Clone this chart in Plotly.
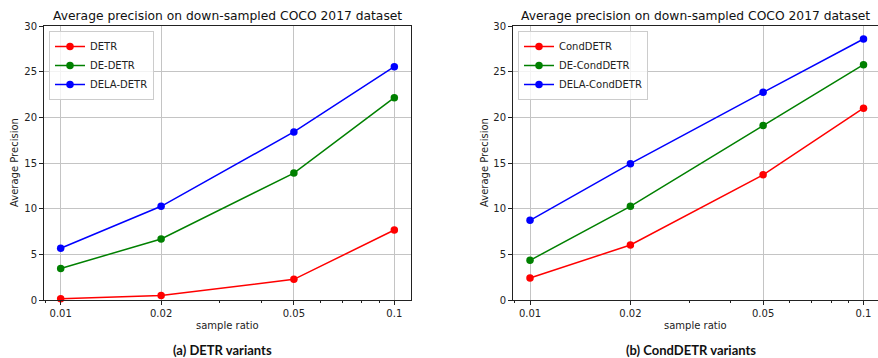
import plotly.graph_objects as go

W, H = 878, 358

sample_ratio = [0.01, 0.02, 0.05, 0.1]
x_tick_labels = ["0.01", "0.02", "0.05", "0.1"]
minor_ticks = [0.009, 0.03, 0.04, 0.06, 0.07, 0.08, 0.09]
y_ticks = [0, 5, 10, 15, 20, 25, 30]

detr = [0.15, 0.5, 2.26, 7.66]
de_detr = [3.45, 6.68, 13.9, 22.15]
dela_detr = [5.66, 10.26, 18.4, 25.55]

cond_detr = [2.41, 6.02, 13.7, 21.0]
de_cond_detr = [4.34, 10.26, 19.1, 25.77]
dela_cond_detr = [8.72, 14.93, 22.74, 28.58]

colors = ["#ff0000", "#008000", "#0000ff"]
left_names = ["DETR", "DE-DETR", "DELA-DETR"]
right_names = ["CondDETR", "DE-CondDETR", "DELA-CondDETR"]

title_text = "Average precision on down-sampled COCO 2017 dataset"
FONT = "DejaVu Sans"


def fx(p):
    return p / W


def fy(p):
    return 1 - p / H


fig = go.Figure()

for vals, name, c in zip([detr, de_detr, dela_detr], left_names, colors):
    fig.add_trace(go.Scatter(x=sample_ratio, y=vals, name=name, mode="lines+markers",
                             line=dict(color=c, width=1.5), marker=dict(color=c, size=7.5),
                             cliponaxis=False, xaxis="x", yaxis="y", legend="legend"))
for vals, name, c in zip([cond_detr, de_cond_detr, dela_cond_detr], right_names, colors):
    fig.add_trace(go.Scatter(x=sample_ratio, y=vals, name=name, mode="lines+markers",
                             line=dict(color=c, width=1.5), marker=dict(color=c, size=7.5),
                             cliponaxis=False, xaxis="x2", yaxis="y2", legend="legend2"))

ydom = [fy(300), fy(26)]
grid = "#c4c4c4"
tickfont = dict(family=FONT, size=10, color="#222")


def xaxis_cfg(domain, rng, anchor):
    return dict(type="log", domain=domain, range=rng, anchor=anchor, automargin=False,
                tickmode="array", tickvals=sample_ratio, ticktext=x_tick_labels,
                ticks="outside", ticklen=4, tickcolor="#222", tickfont=tickfont,
                showgrid=True, gridcolor=grid, gridwidth=1,
                showline=True, linecolor="#222", linewidth=1, mirror=True,
                zeroline=False,
                minor=dict(tickmode="array", tickvals=minor_ticks, ticks="outside",
                           ticklen=2, tickcolor="#222", showgrid=False))


def yaxis_cfg(anchor, mirror):
    return dict(domain=ydom, range=[0, 30], anchor=anchor, automargin=False,
                tickmode="array", tickvals=y_ticks,
                ticks="outside", ticklen=4, tickcolor="#222", tickfont=tickfont,
                showgrid=True, gridcolor=grid, gridwidth=1,
                showline=True, linecolor="#222", linewidth=1, mirror=mirror,
                zeroline=False)


fig.update_layout(
    width=W, height=H,
    margin=dict(l=0, r=0, t=0, b=0, autoexpand=False),
    paper_bgcolor="white", plot_bgcolor="white",
    xaxis=xaxis_cfg([fx(44), fx(411)], [-2.05, -0.95], "y"),
    yaxis=yaxis_cfg("x", True),
    xaxis2=xaxis_cfg([fx(513), 1.0], [-2.051, -2.051 + 365 / 333.5], "y2"),
    yaxis2=yaxis_cfg("x2", False),
    legend=dict(x=fx(49), y=fy(31), xanchor="left", yanchor="top",
                bgcolor="rgba(255,255,255,0.8)", bordercolor="#cccccc", borderwidth=1,
                font=dict(family=FONT, size=10, color="#222"), tracegroupgap=0,
                itemwidth=30),
    legend2=dict(x=fx(518), y=fy(31), xanchor="left", yanchor="top",
                 bgcolor="rgba(255,255,255,0.8)", bordercolor="#cccccc", borderwidth=1,
                 font=dict(family=FONT, size=10, color="#222"), tracegroupgap=0,
                 itemwidth=30),
    showlegend=True,
)

ann = []
for cx, ylx, cap, capx in [(227.5, 14, "(a) DETR variants", 222),
                           (695.5, 484, "(b) CondDETR variants", 691)]:
    ann.append(dict(text=title_text, x=fx(cx), y=fy(16), xref="paper", yref="paper",
                    showarrow=False, xanchor="center", yanchor="middle",
                    font=dict(family=FONT, size=12.3, color="#111")))
    ann.append(dict(text="Average Precision", x=fx(ylx), y=fy(163), xref="paper", yref="paper",
                    showarrow=False, xanchor="center", yanchor="middle", textangle=-90,
                    font=dict(family=FONT, size=10, color="#222")))
    ann.append(dict(text="sample ratio", x=fx(cx), y=fy(325.5), xref="paper", yref="paper",
                    showarrow=False, xanchor="center", yanchor="middle",
                    font=dict(family=FONT, size=10, color="#222")))
    ann.append(dict(text="<b>" + cap + "</b>", x=fx(capx), y=fy(350), xref="paper", yref="paper",
                    showarrow=False, xanchor="center", yanchor="middle",
                    font=dict(family="Lato", size=13, color="#111")))
fig.update_layout(annotations=ann)

fig.write_html("out.html", config={"displayModeBar": False},
               post_script="document.body.style.margin='0';document.body.style.overflow='hidden';")
